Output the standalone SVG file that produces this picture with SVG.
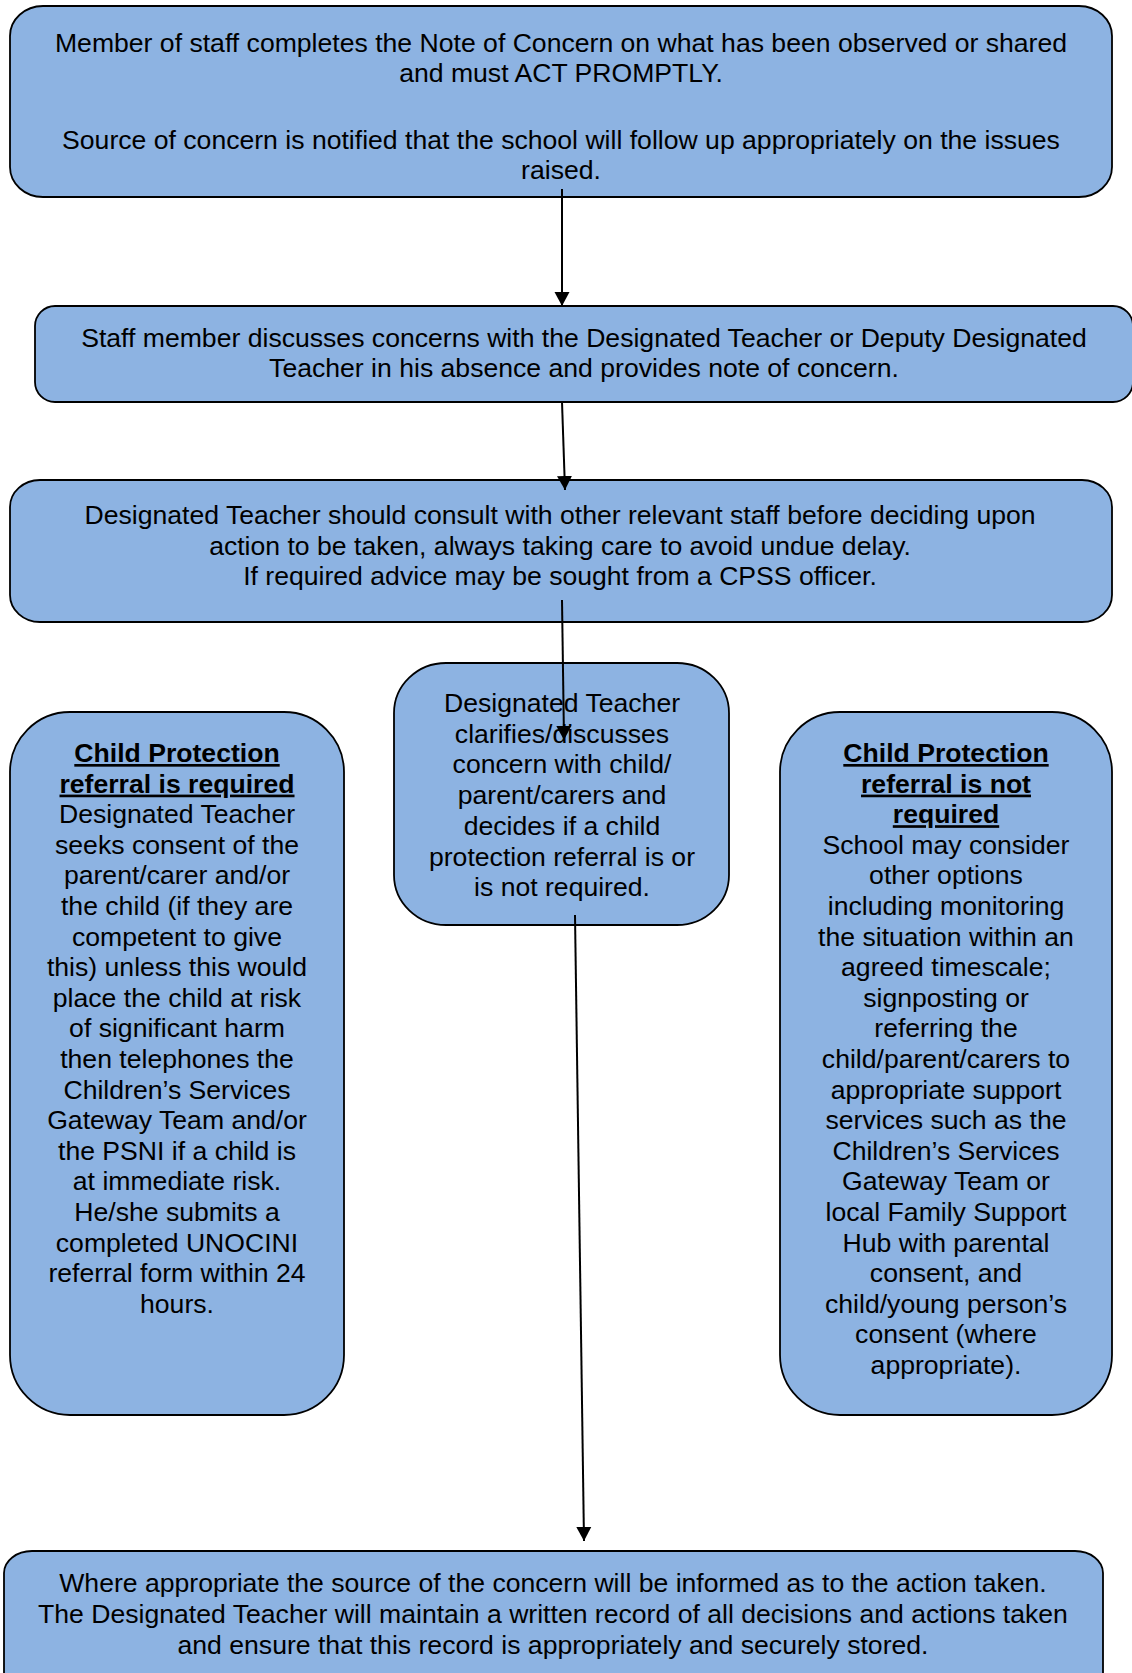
<svg xmlns="http://www.w3.org/2000/svg" width="1132" height="1673" viewBox="0 0 1132 1673">
<style>
.box{fill:#8db3e2;stroke:#000;stroke-width:1.8}
text{font-family:"Liberation Sans",Arial,sans-serif;font-size:26.6px;fill:#000;text-anchor:middle}
.t{font-weight:bold;text-decoration:underline}
.c{stroke:#000;stroke-width:2;fill:none}
</style>
<defs>
<marker id="ah" markerUnits="userSpaceOnUse" markerWidth="16" markerHeight="16" viewBox="0 0 16 16" refX="14" refY="8" orient="auto">
<path d="M0,0.5 L14,8 L0,15.5 Z" fill="#000"/>
</marker>
</defs>
<rect width="1132" height="1673" fill="#fff"/>
<g id="node1">
<rect class="box" x="10" y="6" width="1102" height="191" rx="33" ry="30"/>
<text x="561" y="52">Member of staff completes the Note of Concern on what has been observed or shared<tspan x="561" y="82">and must ACT PROMPTLY.</tspan><tspan x="561" y="149">Source of concern is notified that the school will follow up appropriately on the issues</tspan><tspan x="561" y="179">raised.</tspan></text>
</g>
<g id="node2">
<rect class="box" x="35" y="306" width="1098" height="96" rx="20" ry="20"/>
<text x="584" y="347">Staff member discusses concerns with the Designated Teacher or Deputy Designated<tspan x="584" y="377">Teacher in his absence and provides note of concern.</tspan></text>
</g>
<g id="node3">
<rect class="box" x="10" y="480" width="1102" height="142" rx="30" ry="27"/>
<text x="560" y="524">Designated Teacher should consult with other relevant staff before deciding upon<tspan x="560" y="555">action to be taken, always taking care to avoid undue delay.</tspan><tspan x="560" y="585">If required advice may be sought from a CPSS officer.</tspan></text>
</g>
<g id="node4">
<rect class="box" x="394" y="663" width="335" height="262" rx="52" ry="50"/>
<text x="562" y="712">Designated Teacher<tspan x="562" dy="30.7">clarifies/discusses</tspan><tspan x="562" dy="30.7">concern with child/</tspan><tspan x="562" dy="30.7">parent/carers and</tspan><tspan x="562" dy="30.7">decides if a child</tspan><tspan x="562" dy="30.7">protection referral is or</tspan><tspan x="562" dy="30.7">is not required.</tspan></text>
</g>
<g id="node5">
<rect class="box" x="10" y="712" width="334" height="703" rx="60" ry="60"/>
<text x="177" y="762"><tspan class="t">Child Protection</tspan><tspan class="t" x="177" dy="30.6">referral is required</tspan><tspan x="177" dy="30.6">Designated Teacher</tspan><tspan x="177" dy="30.6">seeks consent of the</tspan><tspan x="177" dy="30.6">parent/carer and/or</tspan><tspan x="177" dy="30.6">the child (if they are</tspan><tspan x="177" dy="30.6">competent to give</tspan><tspan x="177" dy="30.6">this) unless this would</tspan><tspan x="177" dy="30.6">place the child at risk</tspan><tspan x="177" dy="30.6">of significant harm</tspan><tspan x="177" dy="30.6">then telephones the</tspan><tspan x="177" dy="30.6">Children’s Services</tspan><tspan x="177" dy="30.6">Gateway Team and/or</tspan><tspan x="177" dy="30.6">the PSNI if a child is</tspan><tspan x="177" dy="30.6">at immediate risk.</tspan><tspan x="177" dy="30.6">He/she submits a</tspan><tspan x="177" dy="30.6">completed UNOCINI</tspan><tspan x="177" dy="30.6">referral form within 24</tspan><tspan x="177" dy="30.6">hours.</tspan></text>
</g>
<g id="node6">
<rect class="box" x="780" y="712" width="332" height="703" rx="60" ry="60"/>
<text x="946" y="762"><tspan class="t">Child Protection</tspan><tspan class="t" x="946" dy="30.6">referral is not</tspan><tspan class="t" x="946" dy="30.6">required</tspan><tspan x="946" dy="30.6">School may consider</tspan><tspan x="946" dy="30.6">other options</tspan><tspan x="946" dy="30.6">including monitoring</tspan><tspan x="946" dy="30.6">the situation within an</tspan><tspan x="946" dy="30.6">agreed timescale;</tspan><tspan x="946" dy="30.6">signposting or</tspan><tspan x="946" dy="30.6">referring the</tspan><tspan x="946" dy="30.6">child/parent/carers to</tspan><tspan x="946" dy="30.6">appropriate support</tspan><tspan x="946" dy="30.6">services such as the</tspan><tspan x="946" dy="30.6">Children’s Services</tspan><tspan x="946" dy="30.6">Gateway Team or</tspan><tspan x="946" dy="30.6">local Family Support</tspan><tspan x="946" dy="30.6">Hub with parental</tspan><tspan x="946" dy="30.6">consent, and</tspan><tspan x="946" dy="30.6">child/young person’s</tspan><tspan x="946" dy="30.6">consent (where</tspan><tspan x="946" dy="30.6">appropriate).</tspan></text>
</g>
<g id="node7">
<rect class="box" x="4" y="1551" width="1099" height="150" rx="28" ry="22"/>
<text x="553" y="1592">Where appropriate the source of the concern will be informed as to the action taken.<tspan x="553" y="1623">The Designated Teacher will maintain a written record of all decisions and actions taken</tspan><tspan x="553" y="1654">and ensure that this record is appropriately and securely stored.</tspan></text>
</g>
<g id="connectors">
<line class="c" x1="562" y1="189" x2="562" y2="306" marker-end="url(#ah)"/>
<line class="c" x1="562" y1="402" x2="565" y2="490" marker-end="url(#ah)"/>
<line class="c" x1="562" y1="600" x2="564" y2="740" marker-end="url(#ah)"/>
<line class="c" x1="575" y1="915" x2="584" y2="1541" marker-end="url(#ah)"/>
</g>
</svg>
